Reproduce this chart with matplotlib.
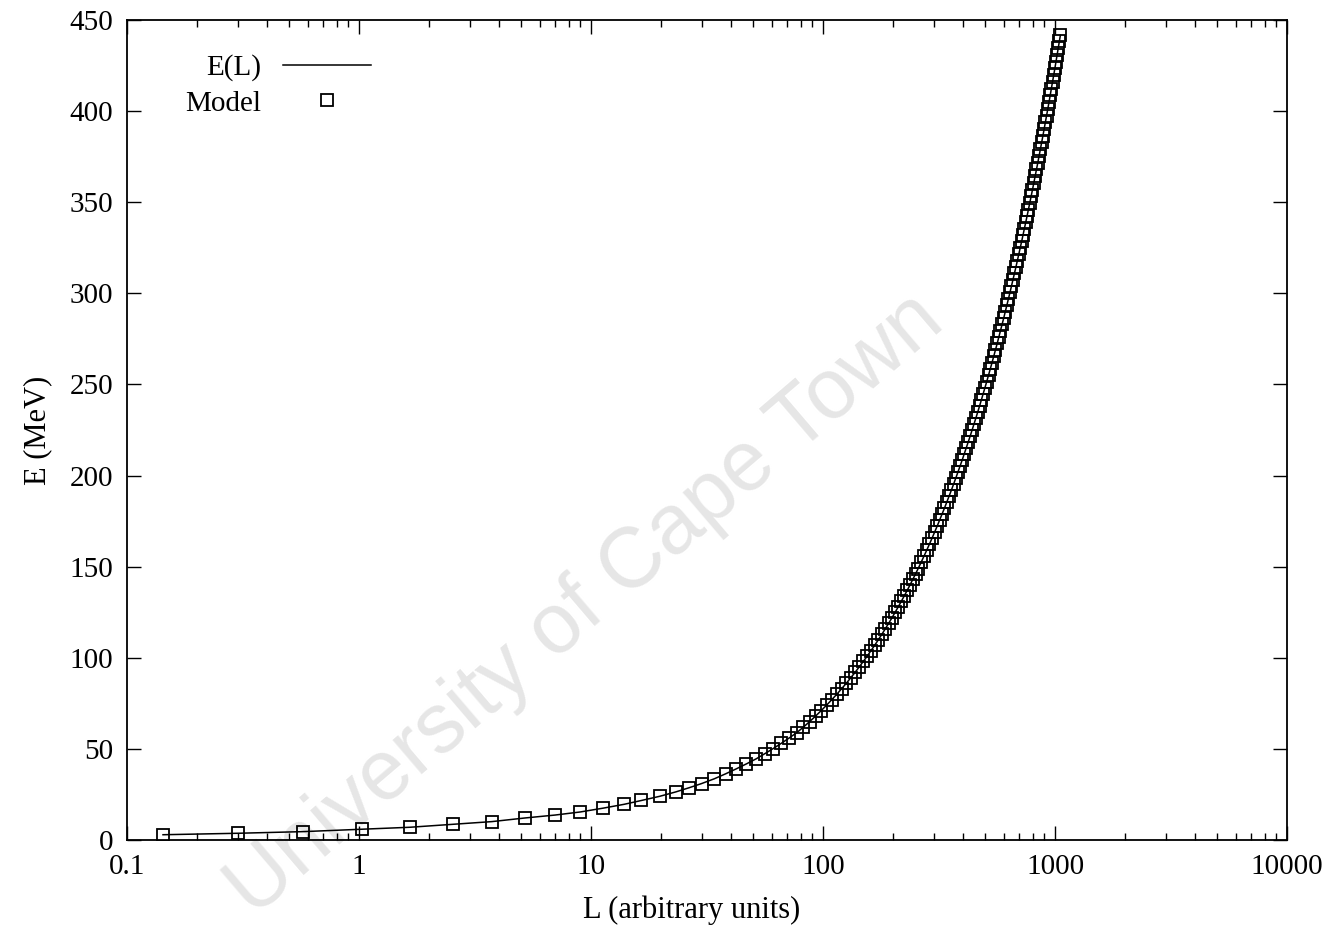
import matplotlib
matplotlib.use('Agg')
import matplotlib.pyplot as plt
from matplotlib.ticker import LogLocator, NullFormatter

# model points: L (arbitrary units), E (MeV)
L_model = [0.143, 0.30, 0.574, 1.03, 1.66, 2.54, 3.74, 5.2, 7.0, 9.0,
           11.3, 13.9, 16.5, 19.8, 23.2, 26.5, 30.0, 34.0, 38.0, 42.2,
           46.8, 51.6, 56.0, 61.0, 66.0, 71.5,
           77.2, 82.4, 87.6, 92.9, 98.2, 103.6, 109.1, 114.7, 120.3, 126.0,
           131.7, 137.5, 143.3, 149.2, 155.2, 161.2, 167.3, 173.4, 179.6, 185.8,
           192.0, 198.4, 204.7, 211.1, 217.6, 224.1, 230.6, 237.2, 243.8, 250.5,
           257.2,
           264.6, 272.1, 279.6, 287.2, 294.8, 302.4, 310.1, 317.8, 325.6, 333.5,
           341.3, 349.2, 357.3, 365.3, 373.3, 381.3, 389.5, 397.7, 405.8, 414.0,
           422.4, 430.7, 439.0, 447.3, 455.8, 464.3, 472.8, 481.2, 489.8, 498.6,
           507.6, 516.8, 526.0, 535.3, 544.6, 553.9, 563.3, 572.7, 582.1, 591.6,
           601.2, 610.7, 620.3, 630.0, 639.6, 649.3, 659.0, 668.8, 678.6, 688.4,
           698.2, 708.1, 718.1, 728.0, 738.0, 748.0, 758.0, 768.1, 778.2,
           788.9, 799.7, 810.5, 821.3, 832.1, 843.0, 853.9, 864.9, 875.8, 886.9,
           897.9, 909.0, 920.1, 931.2, 942.4, 953.6, 964.8, 976.1, 987.4, 998.7,
           1010.0, 1021.4, 1032.8, 1044.2, 1054.4]

E_model = [2.9, 3.7, 4.6, 5.9, 7.0, 8.6, 10.1, 12.1, 13.7, 15.4,
           17.5, 19.6, 21.7, 24.0, 26.4, 28.7, 31.0, 33.6, 36.3, 39.0,
           41.8, 44.6, 47.3, 50.2, 53.0, 56.0,
           59, 62, 65, 68, 71, 74, 77, 80, 83, 86,
           89, 92, 95, 98, 101, 104, 107, 110, 113, 116,
           119, 122, 125, 128, 131, 134, 137, 140, 143, 146,
           149,
           152.3, 155.6, 158.9, 162.2, 165.5, 168.8, 172.1, 175.4, 178.7, 182.0,
           185.3, 188.6, 191.9, 195.2, 198.5, 201.8, 205.1, 208.4, 211.7, 215.0,
           218.3, 221.6, 224.9, 228.2, 231.5, 234.8, 238.1, 241.4, 244.7, 248.0,
           251.5, 255.0, 258.5, 262.0, 265.5, 269.0, 272.5, 276.0, 279.5, 283.0,
           286.5, 290.0, 293.5, 297.0, 300.5, 304.0, 307.5, 311.0, 314.5, 318.0,
           321.5, 325.0, 328.5, 332.0, 335.5, 339.0, 342.5, 346.0, 349.5,
           353.2, 356.9, 360.6, 364.3, 368.0, 371.7, 375.4, 379.1, 382.8, 386.5,
           390.2, 393.9, 397.6, 401.3, 405.0, 408.7, 412.4, 416.1, 419.8, 423.5,
           427.2, 430.9, 434.6, 438.3, 441.6]

x_ticks = [0.1, 1, 10, 100, 1000, 10000]
x_labels = ['0.1', '1', '10', '100', '1000', '10000']
y_ticks = [0, 50, 100, 150, 200, 250, 300, 350, 400, 450]

plt.rcParams['font.family'] = ['Liberation Serif', 'DejaVu Serif']

fig = plt.figure(figsize=(13.38, 9.32), dpi=100)
ax = fig.add_axes([0.0949, 0.0987, 0.867, 0.8798])

# faint watermark behind the data
ax.text(0.438, 0.35, 'University of Cape Town', transform=fig.transFigure,
        rotation=40.5, rotation_mode='anchor', ha='center', va='center',
        fontsize=61, color='#e6e6e6', family='Liberation Sans',
        clip_on=False, zorder=0.5)

ax.plot(L_model, E_model, color='black', lw=1.1, label='E(L)', zorder=2)
ax.plot(L_model, E_model, ls='none', marker='s', ms=8, mfc='none',
        mec='black', mew=1.3, label='Model', zorder=3)

ax.set_xscale('log')
ax.set_xlim(0.1, 10000)
ax.set_ylim(0, 450)
ax.set_xticks(x_ticks)
ax.set_xticklabels(x_labels)
ax.xaxis.set_minor_locator(LogLocator(base=10, subs=range(2, 10), numticks=20))
ax.xaxis.set_minor_formatter(NullFormatter())
ax.set_yticks(y_ticks)

ax.tick_params(which='both', direction='in', top=True, right=True,
               labelsize=21, width=1.0)
ax.tick_params(which='major', length=10, pad=10)
ax.tick_params(which='minor', length=5)
for s in ax.spines.values():
    s.set_linewidth(1.3)

ax.set_xlabel('L (arbitrary units)', fontsize=22)
ax.xaxis.set_label_coords(0.487, -0.068)
ax.set_ylabel('E (MeV)', fontsize=22, labelpad=12)

ax.legend(loc='upper right', bbox_to_anchor=(0.21, 0.958), frameon=False,
          markerfirst=False, handlelength=3.0, handletextpad=0.75,
          labelspacing=0.3, borderpad=0, borderaxespad=0, fontsize=21)

fig.savefig('out.png', dpi=100)
